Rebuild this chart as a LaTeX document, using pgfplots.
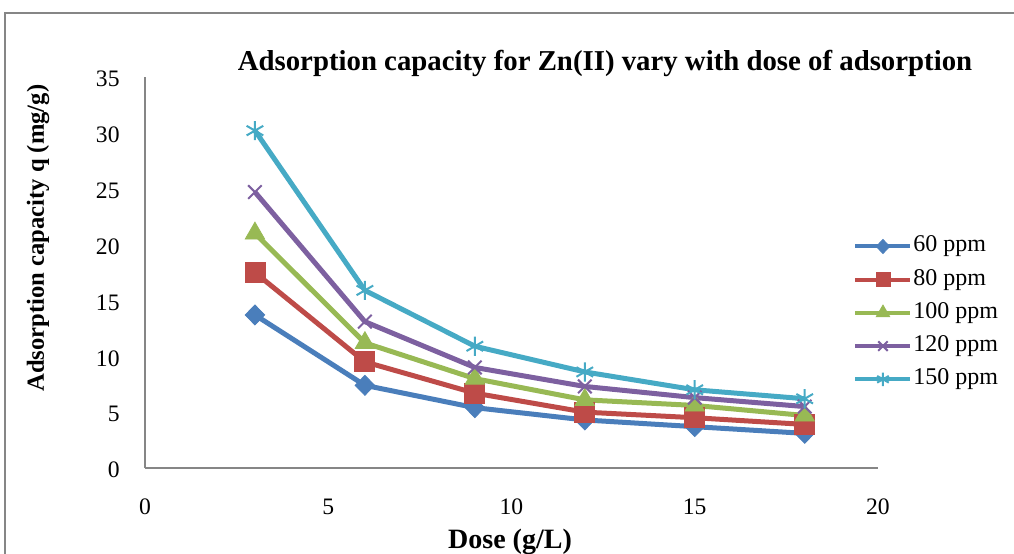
\documentclass[border=0pt]{standalone}
\usepackage{fontspec}
\setmainfont{Liberation Serif}
\usepackage{pgfplots}
\pgfplotsset{compat=1.18}
\definecolor{c1}{HTML}{4A7EBB}
\definecolor{c2}{HTML}{BE4B48}
\definecolor{c3}{HTML}{98B954}
\definecolor{c4}{HTML}{7D60A0}
\definecolor{c5}{HTML}{46AAC5}
\definecolor{axgray}{HTML}{868686}
\begin{document}
\begin{tikzpicture}
\useasboundingbox (-72.5pt,-42.5pt) rectangle (434.5pt,234pt);
\draw[axgray, line width=1pt] (-70pt,-60pt) -- (-70pt,227.5pt) -- (445pt,227.5pt);
\begin{axis}[
  at={(0pt,0pt)}, anchor=south west,
  scale only axis,
  width=366.5pt, height=195.5pt,
  xmin=0, xmax=20, ymin=0, ymax=35,
  xtick={0,5,10,15,20}, ytick={0,5,10,15,20,25,30,35},
  axis x line*=bottom, axis y line*=left,
  axis line style={axgray, line width=0.8pt, -},
  major tick length=0pt,
  tick style={draw=none},
  /pgf/number format/assume math mode=true,
  ticklabel style={font=\fontsize{11.8pt}{13pt}\selectfont},
  xticklabel style={inner sep=0pt, anchor=center, yshift=-19.5pt},
  yticklabel style={inner sep=0pt, anchor=east, xshift=-12.5pt, yshift=-1pt},
  title={Adsorption capacity for Zn(II) vary with dose of adsorption},
  title style={font=\bfseries\fontsize{14.4pt}{16pt}\selectfont, at={(axis description cs:0.6276,1.005)}, anchor=center},
  xlabel={Dose (g/L)},
  xlabel style={font=\bfseries\fontsize{14pt}{15pt}\selectfont, at={(axis description cs:0.498,-0.19)}, anchor=center},
  ylabel={Adsorption capacity q (mg/g)},
  ylabel style={font=\bfseries\fontsize{12.3pt}{15pt}\selectfont, at={(axis description cs:-0.146,0.588)}, anchor=center},
  legend cell align=left,
  legend style={draw=none, fill=none, at={(axis description cs:0.966,0.61)}, anchor=north west,
    inner sep=0pt, row sep=0pt, font=\fontsize{12pt}{13pt}\selectfont,
    nodes={text height=8pt, text depth=2.5pt, inner ysep=3.05pt, inner xsep=0.5pt}},
  legend image code/.code={
    \draw[mark repeat=2, mark phase=2, line width=2pt, every mark/.append style={scale=0.7}]
      plot coordinates {(0pt,0pt) (13.75pt,0pt) (27.5pt,0pt)};},
  clip=false,
]
\addplot[color=c1, line width=2.5pt, mark=diamond*, mark size=5pt, mark options={xscale=1.3, line width=0.4pt, solid, fill=c1}]
  coordinates {(3,13.7) (6,7.4) (9,5.4) (12,4.3) (15,3.7) (18,3.1)};
\addlegendentry{60 ppm}
\addplot[color=c2, line width=2.5pt, mark=square*, mark size=5pt, mark options={line width=0.4pt, solid, fill=c2}]
  coordinates {(3,17.5) (6,9.5) (9,6.7) (12,5.0) (15,4.5) (18,3.9)};
\addlegendentry{80 ppm}
\addplot[color=c3, line width=2.5pt, mark=triangle*, mark size=5.6pt, mark options={line width=0.4pt, solid, fill=c3}]
  coordinates {(3,21.0) (6,11.2) (9,8.0) (12,6.1) (15,5.6) (18,4.7)};
\addlegendentry{100 ppm}
\addplot[color=c4, line width=2.5pt, mark=x, mark size=4.8pt, mark options={line width=1pt, solid}]
  coordinates {(3,24.7) (6,13.1) (9,9.0) (12,7.3) (15,6.3) (18,5.5)};
\addlegendentry{120 ppm}
\addplot[color=c5, line width=2.5pt, mark=asterisk, mark size=4.8pt, mark options={line width=1pt, solid}]
  coordinates {(3,30.2) (6,15.9) (9,10.9) (12,8.6) (15,7.0) (18,6.2)};
\addlegendentry{150 ppm}
\end{axis}
\end{tikzpicture}
\end{document}
